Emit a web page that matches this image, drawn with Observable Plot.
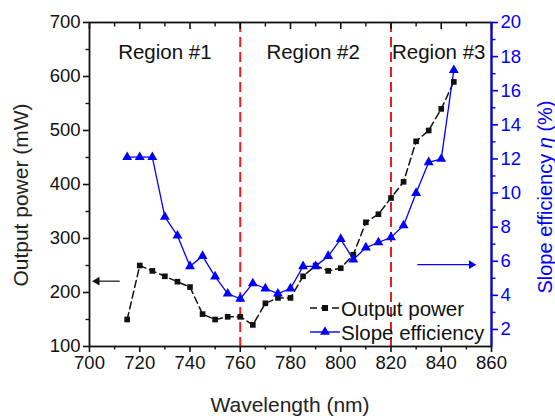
<!DOCTYPE html>
<html><head><meta charset="utf-8">
<script src="https://cdn.jsdelivr.net/npm/d3@7"></script>
<script src="https://cdn.jsdelivr.net/npm/@observablehq/plot@0.6"></script>
<style>
body{margin:0;background:#fff;}
svg{font-family:"Liberation Sans",Arial,sans-serif;}
</style>
</head><body><div id="chart"></div>
<script>
// ---- data ----
const wavelength = [715,720,725,730,735,740,745,750,755,760,765,770,775,780,785,790,795,800,805,810,815,820,825,830,835,840,845];
const outputPower = [150,250,240,230,220,210,160,150,155,155,140,180,190,190,230,250,240,245,270,330,345,375,405,480,500,540,590];
const slopeEfficiency = [12.1,12.1,12.1,8.6,7.5,5.7,6.3,5.1,4.1,3.8,4.7,4.4,4.1,4.4,5.7,5.7,6.3,7.3,6.1,6.8,7.1,7.4,8.1,10.0,11.8,12.0,17.2];
const regionLabels = ["Region #1","Region #2","Region #3"];
const regionCenters = [730,789,839];
const regionLevel = 645;
const boundaries = [760,820];
const xTicks = [700,720,740,760,780,800,820,840,860];
const xMinor = [710,730,750,770,790,810,830,850];
const yTicks = [100,200,300,400,500,600,700];
const yMinor = [150,250,350,450,550,650];
const y2Ticks = [2,4,6,8,10,12,14,16,18,20];
const y2Minor = [3,5,7,9,11,13,15,17,19];
const leftArrow = [{x1:712, x2:703, y:221}];
const rightArrow = [{x1:830.5, x2:852, y2v:5.8}];

// secondary axis mapping (slope efficiency 1..20 onto power 100..700)
const Y2MIN = 1, Y2MAX = 20;
const toY = v => 100 + (v - Y2MIN) * 600 / (Y2MAX - Y2MIN);
const fromY = y => (y - 100) * (Y2MAX - Y2MIN) / 600 + Y2MIN;

const BLUE = "#0000ff";
const TICKFS = 18.5, TITLEFS = 21;
const data = wavelength.map((w,i)=>({w, p: outputPower[i], s: slopeEfficiency[i]}));

const plot = Plot.plot({
  width: 555, height: 416,
  marginLeft: 89, marginRight: 64, marginTop: 22, marginBottom: 70,
  style: {fontFamily: "'Liberation Sans', Arial, sans-serif", fontSize: "18px", color: "#222", background: "#fff"},
  x: {domain: [700, 860]},
  y: {domain: [100, 700]},
  marks: [
    Plot.ruleX(boundaries, {stroke: "#ee1c1c", strokeWidth: 2, strokeDasharray: "10,5"}),
    Plot.line(data, {x: "w", y: "p", stroke: "#111", strokeWidth: 1.5, strokeDasharray: "7,4"}),
    Plot.line(data, {x: "w", y: d => toY(d.s), stroke: BLUE, strokeWidth: 1.3}),
    Plot.dot(data, {x: "w", y: "p", symbol: "square", fill: "#111", r: 3.2}),
    Plot.dot(data, {x: "w", y: d => toY(d.s), symbol: "triangle", fill: BLUE, r: 3.7}),
    Plot.text(regionLabels, {x: (d,i) => regionCenters[i], y: regionLevel, text: d => d, fontSize: 20.5, fill: "#111"}),
    // arrows
    Plot.link(leftArrow, {x1: "x1", x2: "x2", y1: "y", y2: "y", stroke: "#111", strokeWidth: 1.2}),
    Plot.dot(leftArrow, {x: "x2", y: "y", symbol: "triangle", rotate: -90, fill: "#111", r: 3.2}),
    Plot.link(rightArrow, {x1: "x1", x2: "x2", y1: d => toY(d.y2v), y2: d => toY(d.y2v), stroke: BLUE, strokeWidth: 1.2}),
    Plot.dot(rightArrow, {x: "x2", y: d => toY(d.y2v), symbol: "triangle", rotate: 90, fill: BLUE, r: 3.2}),
    // axes
    Plot.axisX(xTicks, {anchor: "bottom", tickSize: 6, tickPadding: 3, fontSize: TICKFS, label: null, strokeWidth: 1.6, color: "#111"}),
    Plot.axisX(xMinor, {anchor: "bottom", tickSize: 3.5, tickFormat: () => "", label: null, strokeWidth: 1.4, color: "#111"}),
    Plot.axisX(xTicks, {anchor: "top", tickSize: -6, tickFormat: () => "", label: null, strokeWidth: 1.6, color: "#111"}),
    Plot.axisX(xMinor, {anchor: "top", tickSize: -3.5, tickFormat: () => "", label: null, strokeWidth: 1.4, color: "#111"}),
    Plot.axisY(yTicks, {anchor: "left", tickSize: 6, tickPadding: 3, fontSize: TICKFS, label: null, strokeWidth: 1.6, color: "#111"}),
    Plot.axisY(yMinor, {anchor: "left", tickSize: 3.5, tickFormat: () => "", label: null, strokeWidth: 1.4, color: "#111"}),
    Plot.frame({stroke: "#111", strokeWidth: 1.8}),
    Plot.ruleX([860], {stroke: BLUE, strokeWidth: 2}),
    Plot.axisY(y2Ticks.map(toY), {anchor: "right", tickSize: 6, tickPadding: 3, fontSize: TICKFS, label: null, strokeWidth: 1.6, color: BLUE, tickFormat: y => String(Math.round(fromY(y)))}),
    Plot.axisY(y2Minor.map(toY), {anchor: "right", tickSize: 3.5, tickFormat: () => "", label: null, strokeWidth: 1.4, color: BLUE})
  ]
});

document.getElementById("chart").appendChild(plot);

// axis titles and legend
const svg = d3.select(plot);
svg.append("text").attr("transform", "translate(20,195) rotate(-90)")
  .attr("text-anchor", "middle").attr("dominant-baseline", "central")
  .attr("font-size", TITLEFS).attr("fill", "#222").text("Output power (mW)");
svg.append("text").attr("x", 290).attr("y", 404)
  .attr("text-anchor", "middle").attr("dominant-baseline", "central")
  .attr("font-size", TITLEFS).attr("fill", "#222").text("Wavelength (nm)");
const rt = svg.append("text").attr("transform", "translate(545,197) rotate(-90)")
  .attr("text-anchor", "middle").attr("dominant-baseline", "central")
  .attr("font-size", 20).attr("fill", BLUE);
rt.append("tspan").text("Slope efficiency ");
rt.append("tspan").attr("font-style", "italic").text("η");
rt.append("tspan").text(" (%)");

const legendItems = [
  {label: "Output power", color: "#111", dash: "7,4", sym: d3.symbolSquare, size: 36},
  {label: "Slope efficiency", color: BLUE, dash: "none", sym: d3.symbolTriangle, size: 42}
];
const lg = svg.append("g");
legendItems.forEach((it, i) => {
  const y = 308 + i * 24;
  lg.append("line").attr("x1", 310).attr("x2", 340).attr("y1", y).attr("y2", y)
    .attr("stroke", it.color).attr("stroke-width", 1.4).attr("stroke-dasharray", it.dash);
  lg.append("path").attr("d", d3.symbol(it.sym, it.size)()).attr("transform", `translate(325,${y})`).attr("fill", it.color);
  lg.append("text").attr("x", 341).attr("y", y).attr("text-anchor", "start").attr("dominant-baseline", "central")
    .attr("font-size", 20.5).attr("fill", "#111").text(it.label);
});
</script>
</body></html>
